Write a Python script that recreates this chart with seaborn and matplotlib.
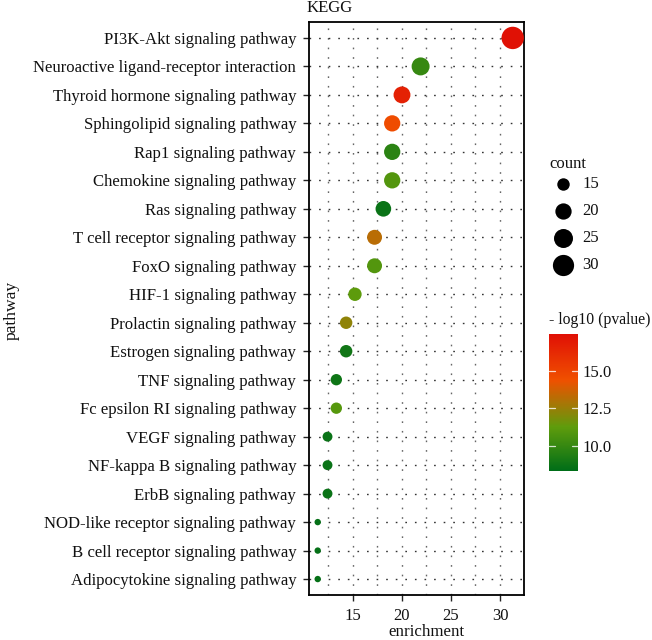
import numpy as np
import pandas as pd
import matplotlib
matplotlib.use("Agg")
import matplotlib.pyplot as plt
from matplotlib.colors import LinearSegmentedColormap, Normalize
from matplotlib.cm import ScalarMappable
import seaborn as sns

pathways = ["PI3K-Akt signaling pathway", "Neuroactive ligand-receptor interaction",
            "Thyroid hormone signaling pathway", "Sphingolipid signaling pathway",
            "Rap1 signaling pathway", "Chemokine signaling pathway", "Ras signaling pathway",
            "T cell receptor signaling pathway", "FoxO signaling pathway", "HIF-1 signaling pathway",
            "Prolactin signaling pathway", "Estrogen signaling pathway", "TNF signaling pathway",
            "Fc epsilon RI signaling pathway", "VEGF signaling pathway", "NF-kappa B signaling pathway",
            "ErbB signaling pathway", "NOD-like receptor signaling pathway",
            "B cell receptor signaling pathway", "Adipocytokine signaling pathway"]
enrichment = [31.3, 21.9, 20.0, 19.0, 19.0, 19.0, 18.1, 17.2, 17.2, 15.2,
              14.3, 14.3, 13.3, 13.3, 12.4, 12.4, 12.4, 11.4, 11.4, 11.4]
count = [33, 23, 21, 20, 20, 20, 19, 18, 18, 16, 15, 15, 14, 14, 13, 13, 13, 12, 12, 12]
logp = [17.4, 10.0, 16.6, 14.6, 9.7, 10.9, 8.7, 13.2, 10.9, 11.2,
        12.3, 8.9, 8.8, 11.0, 8.7, 8.7, 8.7, 8.5, 8.5, 8.5]
legend_counts = [15, 20, 25, 30]
x_ticks = [15, 20, 25, 30]
cbar_ticks = [10.0, 12.5, 15.0]

W, H = 652, 640
sns.set_style("white")
plt.rcParams["font.family"] = ["Liberation Serif", "DejaVu Serif"]
FS = 12

cmap = LinearSegmentedColormap.from_list(
    "gr", [(0.0, "#006e18"), (0.32, "#5f9c0c"), (0.665, "#f05000"), (1.0, "#e01005")])
norm = Normalize(8.35, 17.45)


def area(c):
    t = np.sqrt((c - 12) / (33 - 12))
    d_px = 6.4 + 16 * t
    return (d_px * 0.72) ** 2


df = pd.DataFrame({"pathway": pathways, "enrichment": enrichment, "count": count, "logp": logp})

fig = plt.figure(figsize=(W / 100, H / 100), dpi=100)
ax = fig.add_axes([308.7 / W, 1 - 595.3 / H, (523.7 - 308.7) / W, (595.3 - 21.7) / H])

ax.set_axisbelow(True)
for v in [12.5, 15, 17.5, 20, 22.5, 25, 27.5, 30, 32.5]:
    ax.axvline(v, color="#666666", lw=1.0, ls=(0, (1.2, 5.7)), zorder=0)
for i in range(len(pathways)):
    ax.axhline(i, color="#333333", lw=1.0, ls=(0, (1.2, 5.7)), zorder=0)

sns.scatterplot(data=df, x="enrichment", y="pathway", hue="logp", hue_norm=norm, palette=cmap,
                size="count", sizes={c: area(c) for c in set(count)}, linewidth=0,
                legend=False, ax=ax, zorder=3, clip_on=False)

ax.set_xlim(10.48, 32.42)
ax.set_ylim(len(pathways) - 1 + 0.57, -0.57)
ax.set_xticks(x_ticks)
ax.tick_params(axis="y", length=4.5, width=1.0, color="#222222", labelsize=12.1,
               labelcolor="#111111", pad=4.5, left=True)
ax.tick_params(axis="x", length=4.5, width=1.0, color="#222222", labelsize=FS,
               labelcolor="#111111", pad=5, bottom=True)
for s in ax.spines.values():
    s.set_visible(True)
    s.set_linewidth(1.3)
    s.set_color("black")
ax.set_xlabel("")
ax.set_ylabel("")
fig.text(426.5 / W, 1 - 632.5 / H, "enrichment", fontsize=12.2, color="#111111", ha="center", va="center")
fig.text(12 / W, 1 - 310 / H, "pathway", fontsize=12.6, color="#111111", ha="center", va="center",
         rotation=90)
fig.text(307 / W, 1 - 8 / H, "KEGG", fontsize=12, color="#111111", ha="left", va="center")

# count legend
handles = [plt.scatter([], [], s=area(c), color="black", linewidth=0) for c in legend_counts]
fig.legend(handles, [str(c) for c in legend_counts], frameon=False,
           loc="upper left", bbox_to_anchor=(533 / W, 1 - 163 / H), fontsize=FS,
           labelspacing=0.66, handletextpad=0.15, borderpad=0.3, labelcolor="#111111")
fig.text(549 / W, 1 - 164 / H, "count", fontsize=12, color="#111111", ha="left", va="center")

# colour bar
cax = fig.add_axes([549 / W, 1 - 470.7 / H, 29 / W, (470.7 - 334) / H])
cb = fig.colorbar(ScalarMappable(norm=norm, cmap=cmap), cax=cax, ticks=cbar_ticks)
cb.outline.set_visible(False)
cb.ax.set_yticklabels([f"{t:.1f}" for t in cbar_ticks])
cb.ax.tick_params(length=0, labelsize=FS, labelcolor="#111111", pad=3.5)
for t in cbar_ticks:
    cax.plot([0, 0.2], [t, t], color="white", lw=0.9, alpha=0.8, transform=cax.get_yaxis_transform())
    cax.plot([0.8, 1], [t, t], color="white", lw=0.9, alpha=0.8, transform=cax.get_yaxis_transform())
fig.text(549 / W, 1 - 320 / H, "- log10 (pvalue)", fontsize=11.3, color="#111111", va="center", ha="left")

fig.savefig("out.png", dpi=100)
